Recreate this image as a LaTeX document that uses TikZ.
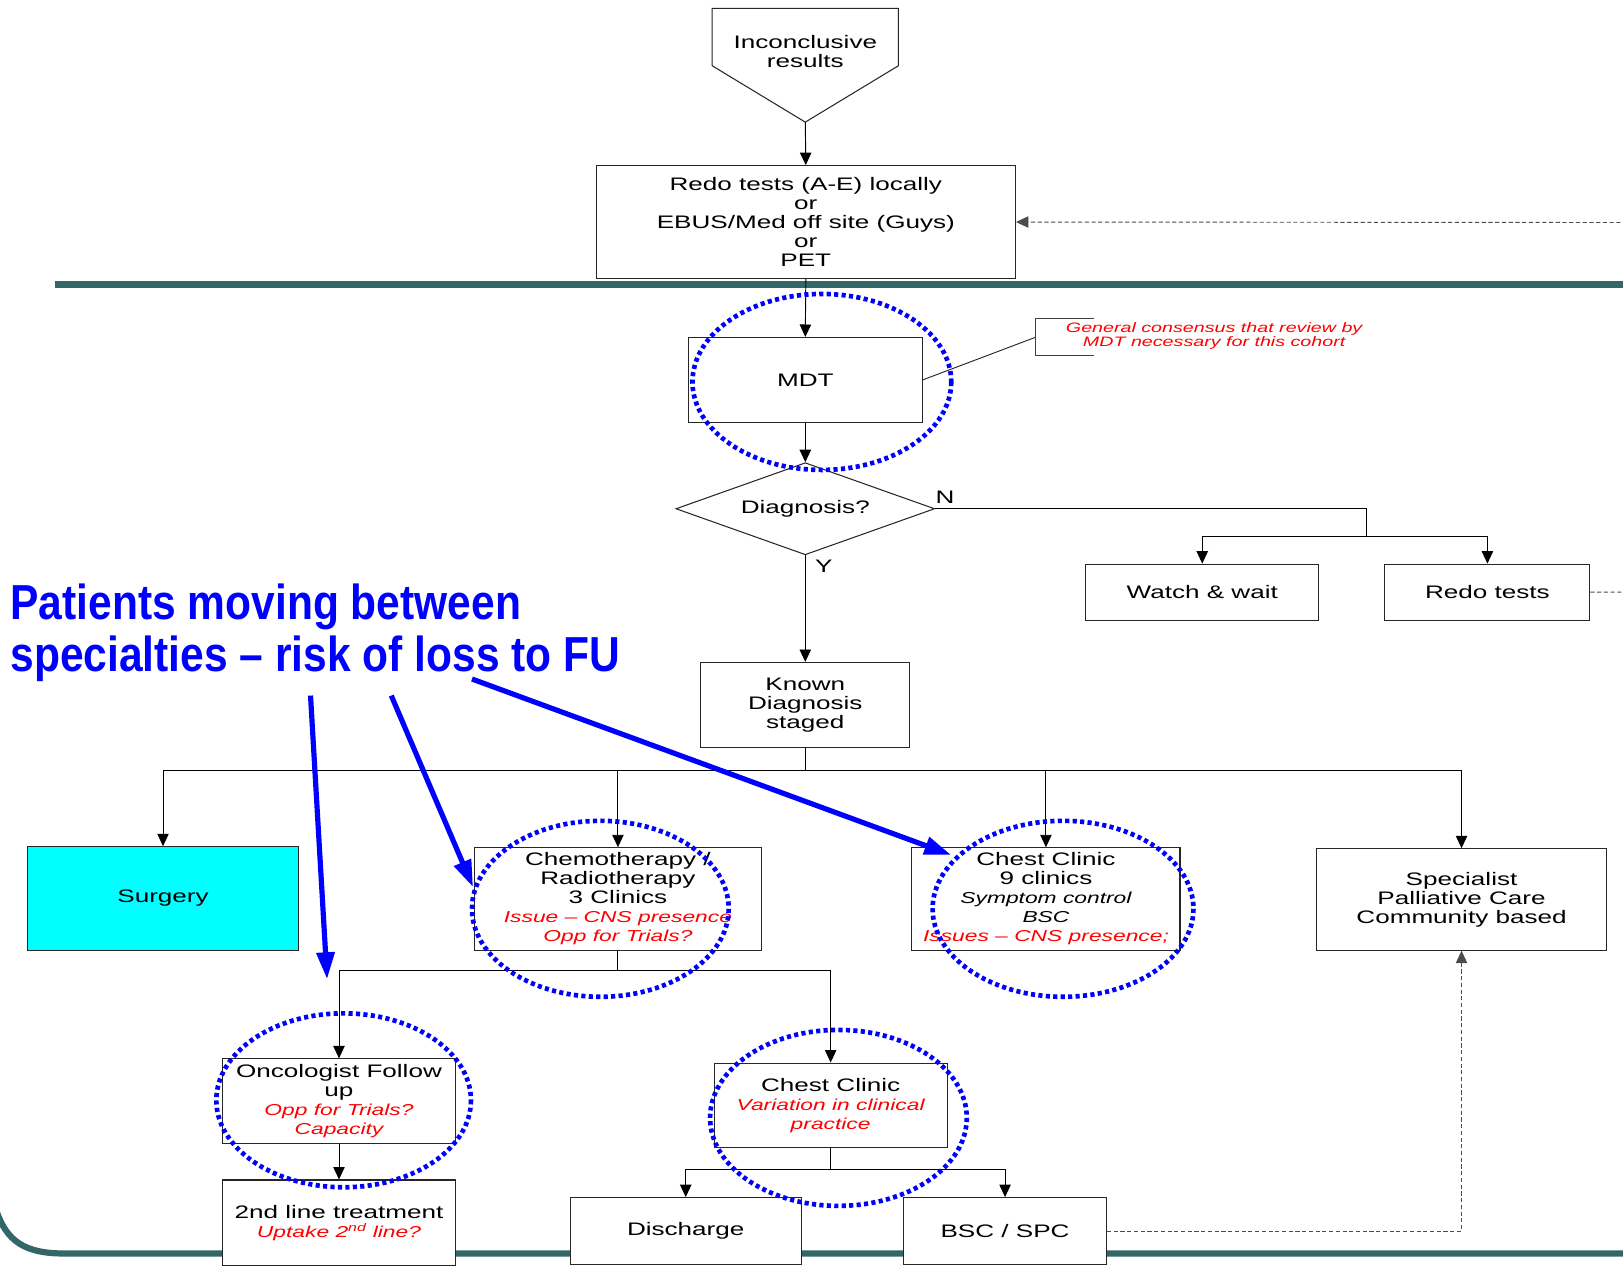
\documentclass[tikz,border=0pt]{standalone}
\usepackage{fontspec}
\setmainfont{Liberation Sans}[FakeStretch=1.44]
\newfontfamily\headfont{Liberation Sans}[FakeStretch=0.865]
\usetikzlibrary{arrows.meta,shapes.geometric}

\definecolor{barteal}{RGB}{51,102,102}
\definecolor{noteblue}{RGB}{0,0,255}
\definecolor{notered}{RGB}{255,0,0}
\definecolor{surgcyan}{RGB}{0,255,255}

% smaller italic lines inside the boxes
\newcommand\remark[1]{{\fontsize{15.3}{17}\selectfont\itshape\color{notered}#1}}
\newcommand\detail[1]{{\fontsize{15.3}{17}\selectfont\itshape #1}}

\tikzset{
  box/.style={draw=black!85, line width=1pt, fill=white, inner sep=0pt,
    align=center, font=\fontsize{17.5}{18.4}\selectfont},
  flow/.style={line width=0.9pt, -{Triangle[length=12pt,width=11pt]}},
  link/.style={line width=0.9pt},
  back/.style={draw=black!70, line width=0.9pt, dash pattern=on 4pt off 2.5pt},
  hot/.style={draw=noteblue, line width=4.5pt, dash pattern=on 4pt off 3.2pt},
  pointer/.style={draw=noteblue, line width=5pt, -{Triangle[length=26pt,width=17pt]}},
  bar/.style={draw=barteal, line width=7pt},
  lbl/.style={inner sep=0pt, font=\fontsize{17.5}{18.4}\selectfont},
}

\begin{document}
\begin{tikzpicture}[x=1pt,y=-1pt]
\useasboundingbox (0,0) rectangle (1568,1223);
\clip (0,0) rectangle (1568,1223);
\fill[white] (0,0) rectangle (1568,1223);

% section bars
\draw[bar] (53,275) -- (1575,275);
\draw[bar, line width=6pt] (-4,1168) .. controls (6,1200) and (25,1211) .. (62,1211) -- (1575,1211);

% off-page connector
\draw[line width=1pt, draw=black!85, fill=white] (688,8) -- (868,8) -- (868,63.5) -- (778,118) -- (688,63.5) -- cycle;
\node[lbl, align=center] (inc) at (778,49.5) {Inconclusive\\results};
\coordinate (inctip) at (778,118);

% boxes
\node[box, minimum width=405pt, minimum height=109pt] (redo) at (778.5,214.5)
  {Redo tests (A-E) locally\\or\\EBUS/Med off site (Guys)\\or\\PET};
\node[box, minimum width=226pt, minimum height=82pt] (mdt) at (778,367) {MDT};
\node[box, diamond, shape aspect=2.8, minimum width=250pt, minimum height=89pt] (dia) at (778,491.5) {Diagnosis?};
\node[box, minimum width=225pt, minimum height=54pt] (watch) at (1161.5,572) {Watch \& wait};
\node[box, minimum width=198pt, minimum height=54pt] (redo2) at (1437,572) {Redo tests};
\node[box, minimum width=202pt, minimum height=82pt] (known) at (778,681) {Known\\Diagnosis\\staged};
\node[box, fill=surgcyan, minimum width=261pt, minimum height=100pt] (surgery) at (157.5,868) {Surgery};
\node[box, minimum width=278pt, minimum height=99pt] (chemo) at (597,868.5)
  {Chemotherapy /\\Radiotherapy\\3 Clinics\\\remark{Issue – CNS presence}\\\remark{Opp for Trials?}};
\node[box, minimum width=259pt, minimum height=99pt] (chest) at (1010.5,868.5)
  {Chest Clinic\\9 clinics\\\detail{Symptom control}\\\detail{BSC}\\\remark{Issues – CNS presence;}};
\node[box, minimum width=280pt, minimum height=98pt] (spc) at (1412,869)
  {Specialist\\Palliative Care\\Community based};
\node[box, minimum width=225pt, minimum height=82pt] (onco) at (327.5,1064)
  {Oncologist Follow\\up\\\remark{Opp for Trials?}\\\remark{Capacity}};
\node[box, minimum width=225pt, minimum height=83pt] (second) at (327.5,1181.5)
  {2nd line treatment\\\remark{Uptake 2\textsuperscript{nd} line?}};
\node[box, minimum width=225pt, minimum height=82pt] (cc2) at (802.5,1068)
  {Chest Clinic\\\remark{Variation in clinical}\\\remark{practice}};
\node[box, minimum width=223pt, minimum height=65pt] (discharge) at (662.5,1189.5) {Discharge};
\node[box, minimum width=196pt, minimum height=65pt] (bsc) at (971,1189.5) {BSC / SPC};

% annotation
\node[inner sep=0pt, align=center, text=notered, font=\fontsize{13.2}{14}\selectfont\itshape] (note) at (1173,324.5)
  {General consensus that review by\\MDT necessary for this cohort};
\coordinate (brk) at (1000,326);
\draw[link, draw=black!75] (1057,308) -- (1000,308) -- (1000,343) -- (1057,343);
\draw[link, draw=black!85] (mdt.east) -- (brk);

% flow
\draw[flow] (inctip) -- (redo.north);
\draw[flow] (redo.south) -- (mdt.north);
\draw[flow] (mdt.south) -- (dia.north);

\coordinate (nj) at (1320,518);
\draw[link] (dia.east) -| (nj);
\draw[flow] (nj) -| (watch.north);
\draw[flow] (nj) -| (redo2.north);
\node[lbl] (nlab) at (913,480) {N};
\node[lbl] (ylab) at (796,547) {Y};

\draw[flow] (dia.south) -- (known.north);
\coordinate (kj) at (778,744);
\draw[link] (known.south) -- (kj);
\draw[flow] (kj) -| (surgery.north);
\draw[flow] (kj) -| (chemo.north);
\draw[flow] (kj) -| (chest.north);
\draw[flow] (kj) -| (spc.north);

\coordinate (cj) at (597,938);
\draw[link] (chemo.south) -- (cj);
\draw[flow] (cj) -| (onco.north);
\draw[flow] (cj) -| (cc2.north);
\draw[flow] (onco.south) -- (second.north);

\coordinate (dj) at (802.5,1130);
\draw[link] (cc2.south) -- (dj);
\draw[flow] (dj) -| (discharge.north);
\draw[flow] (dj) -| (bsc.north);

% return links
\coordinate (rimA) at (1600,572);
\coordinate (rimB) at (1600,215);
\draw[back, -{Triangle[length=12pt,width=11pt]}] (redo2.east) -- (rimA) -- (rimB) -- (redo.east);
\draw[back, -{Triangle[length=12pt,width=11pt]}] (bsc.east) -| (spc.south);

% hot spots
\draw[hot] (794,369) ellipse [x radius=125, y radius=85];
\draw[hot] (580,878) ellipse [x radius=124, y radius=85];
\draw[hot] (1027,878) ellipse [x radius=126, y radius=85];
\draw[hot] (332,1063) ellipse [x radius=123, y radius=84];
\draw[hot] (810,1080) ellipse [x radius=124, y radius=85];

% headline and pointers
\node[anchor=north west, inner sep=0pt, align=left, text=noteblue,
  font=\headfont\bfseries\fontsize{47.5}{50}\selectfont] (title) at (10,564)
  {Patients moving between\\specialties – risk of loss to FU};
\coordinate (p1s) at (300,672); \coordinate (p1e) at (316,946);
\coordinate (p2s) at (378,672); \coordinate (p2e) at (457,857);
\coordinate (p3s) at (456,656); \coordinate (p3e) at (919,826);
\draw[pointer] (p1s) -- (p1e);
\draw[pointer] (p2s) -- (p2e);
\draw[pointer] (p3s) -- (p3e);
\end{tikzpicture}
\end{document}
